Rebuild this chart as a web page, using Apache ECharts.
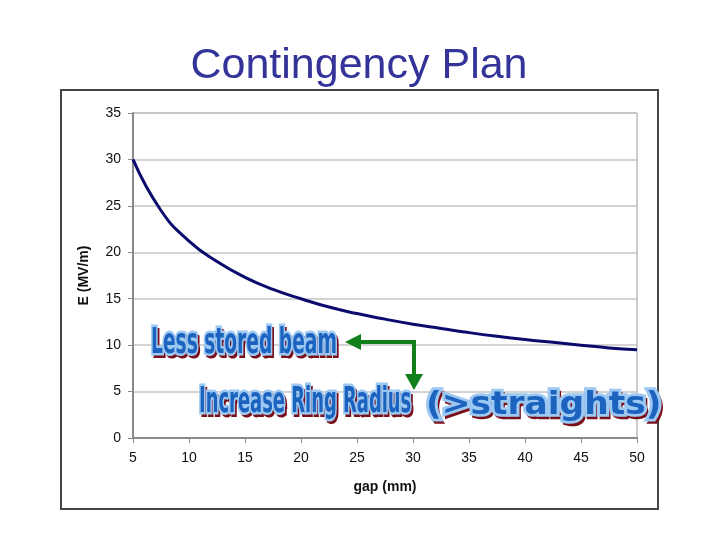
<!DOCTYPE html>
<html>
<head>
<meta charset="utf-8">
<script src="https://cdn.jsdelivr.net/npm/echarts@6/dist/echarts.min.js"></script>
<style>
    html, body { margin: 0; padding: 0; background: #fff; }
    #main { width: 720px; height: 540px; }
</style>
</head>
<body>
<div id="main"></div>
<script>
// gap (mm) and field E (MV/m)
var gapValues = [5, 7.5, 10, 12.5, 15, 17.5, 20, 22.5, 25, 27.5, 30, 32.5, 35, 37.5, 40, 42.5, 45, 47.5, 50];
var fieldValues = [30.0, 24.5, 21.2, 19.0, 17.3, 16.0, 15.0, 14.1, 13.4, 12.8, 12.25, 11.8, 11.35, 10.95, 10.6, 10.3, 10.0, 9.7, 9.5];

var titleText = "Contingency Plan";
var xName = "gap (mm)";
var yName = "E (MV/m)";

var pts = gapValues.map(function (g, i) { return [g, fieldValues[i]]; });

var myChart = echarts.init(document.getElementById("main"));

// WordArt style label: shadow, light outline, blue fill
function wordArt(txt, x, y, font, sx, sy) {
    var base = { x: x, y: y, scaleX: sx, scaleY: sy, originX: 0, originY: 0 };
    return [
        Object.assign({ type: "text", z: 10, style: { text: txt, font: font, fill: "#7a0f1a", stroke: "#7a0f1a", lineWidth: 4, textVerticalAlign: "top" } }, base, { x: x + 2, y: y + 3 }),
        Object.assign({ type: "text", z: 11, style: { text: txt, font: font, fill: "#9cc8f2", stroke: "#9cc8f2", lineWidth: 5, textVerticalAlign: "top" } }, base),
        Object.assign({ type: "text", z: 12, style: { text: txt, font: font, fill: "#1c63c0", textVerticalAlign: "top" } }, base)
    ];
}

var graphics = [
    {
        type: "rect",
        z: -1,
        shape: { x: 61, y: 90, width: 597, height: 419 },
        style: { fill: "none", stroke: "#444", lineWidth: 2 }
    },
    {
        type: "text",
        style: {
            text: titleText,
            x: 359, y: 66,
            font: "43px 'Liberation Sans', Arial, sans-serif",
            fill: "#333399",
            textAlign: "center",
            textVerticalAlign: "middle"
        }
    },
    // green arrow
    {
        type: "polyline",
        z: 9,
        shape: { points: [[356, 342], [414, 342], [414, 378]] },
        style: { stroke: "#11801a", lineWidth: 4, fill: "none" }
    },
    {
        type: "polygon",
        z: 9,
        shape: { points: [[345, 342], [361, 334], [361, 350]] },
        style: { fill: "#11801a" }
    },
    {
        type: "polygon",
        z: 9,
        shape: { points: [[414, 390], [405, 374], [423, 374]] },
        style: { fill: "#11801a" }
    }
];

var condensed = "bold 34px 'DejaVu Sans Condensed', 'Liberation Sans Narrow', sans-serif";
graphics = graphics
    .concat(wordArt("Less stored beam", 151, 326, condensed, 0.61, 1.05))
    .concat(wordArt("Increase Ring Radius", 199, 385, condensed, 0.586, 1.05))
    .concat(wordArt("(>straights)", 426, 390, "bold 28px 'DejaVu Sans', sans-serif", 1.23, 1.12));

const option = {
    backgroundColor: "#fff",
    animation: false,
    grid: {
        left: 133,
        right: 83,
        top: 113,
        bottom: 102,
        show: true,
        borderColor: "#9a9a9a",
        borderWidth: 1
    },
    xAxis: {
        type: "value",
        min: 5,
        max: 50,
        interval: 5,
        name: xName,
        nameLocation: "middle",
        nameGap: 42,
        nameTextStyle: { fontSize: 14, fontWeight: "bold", color: "#111", fontFamily: "Liberation Sans" },
        axisLine: { show: true, onZero: false, lineStyle: { color: "#8a8a8a", width: 2 } },
        axisTick: { show: true, length: 5, lineStyle: { color: "#8a8a8a" } },
        axisLabel: { fontSize: 14, color: "#111", margin: 13, fontFamily: "Liberation Sans" },
        splitLine: { show: false }
    },
    yAxis: {
        type: "value",
        min: 0,
        max: 35,
        interval: 5,
        name: yName,
        nameLocation: "middle",
        nameGap: 42,
        nameRotate: 90,
        nameTextStyle: { fontSize: 14, fontWeight: "bold", color: "#111", fontFamily: "Liberation Sans" },
        axisLine: { show: true, lineStyle: { color: "#8a8a8a", width: 2 } },
        axisTick: { show: true, length: 5, lineStyle: { color: "#8a8a8a" } },
        axisLabel: { fontSize: 14, color: "#111", margin: 12, fontFamily: "Liberation Sans" },
        splitLine: { show: true, lineStyle: { color: "#c4c4c4", width: 1.5 } }
    },
    series: [
        {
            type: "line",
            data: pts,
            smooth: true,
            showSymbol: false,
            lineStyle: { color: "#0b0b6e", width: 3 }
        }
    ],
    graphic: graphics
};
myChart.setOption(option);
</script>
</body>
</html>
